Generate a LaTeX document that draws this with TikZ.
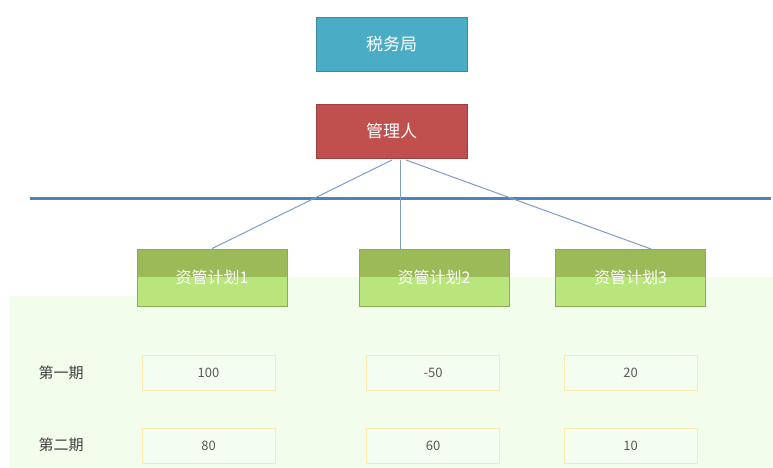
\documentclass[tikz,border=0pt]{standalone}
\usepackage{fontspec}
\setmainfont{Noto Sans CJK SC}
\begin{document}
\begin{tikzpicture}[x=1pt,y=-1pt,
  topbox/.style={draw=#1!80!black, line width=0.8pt, minimum width=151pt, minimum height=54pt, text=white, font=\fontsize{17}{19}\selectfont, inner sep=0pt},
  planbox/.style={draw=planedge, line width=0.8pt, minimum width=150pt, minimum height=57pt, text=white, font=\fontsize{16}{18}\selectfont, inner sep=0pt},
  valbox/.style={draw=valedge, fill=valfill, line width=0.8pt, minimum width=133pt, minimum height=35pt, text=valtext, font=\fontsize{13}{15}\selectfont, inner sep=0pt},
  rowlabel/.style={text=rowtext, font=\fontsize{15}{17}\selectfont, inner sep=0pt},
  link/.style={draw=linkblue, line width=1pt}
]
\definecolor{taxblue}{HTML}{4BACC6}
\definecolor{mgrred}{HTML}{C0504D}
\definecolor{barblue}{HTML}{4F81BD}
\definecolor{linkblue}{HTML}{7F9CC8}
\definecolor{planedge}{HTML}{8EAA55}
\definecolor{plandark}{HTML}{9BBB59}
\definecolor{planlight}{HTML}{B8E67C}
\definecolor{bandgreen}{HTML}{F3FDEC}
\definecolor{valedge}{HTML}{FCEBB0}
\definecolor{valfill}{HTML}{F3FDF0}
\definecolor{valtext}{HTML}{595959}
\definecolor{rowtext}{HTML}{404040}
\useasboundingbox (0,0) rectangle (773,468);
\fill[white] (0,0) rectangle (773,468);
% light green lower band
\fill[bandgreen] (10,296) -- (137,296) -- (137,277) -- (773,277) -- (773,468) -- (10,468) -- cycle;
% plan box fills (dark top, light bottom)
\foreach \xa/\xb in {137/287, 359/509, 555/706}{
  \fill[planlight] (\xa,249) rectangle (\xb,306);
  \fill[plandark] (\xa,249) rectangle (\xb,277);
}
\node[topbox=taxblue, fill=taxblue] (tax) at (391.5,44.5) {税务局};
\node[topbox=mgrred, fill=mgrred] (mgr) at (391.5,131.5) {管理人};
\coordinate (barL) at (30,198);
\coordinate (barR) at (771,198);
\draw[barblue, line width=3pt] (barL) -- (barR);
\node[planbox] (p1) at (212,277.5) {资管计划1};
\node[planbox] (p2) at (434,277.5) {资管计划2};
\node[planbox] (p3) at (630.5,277.5) {资管计划3};
\coordinate (m1) at (392,160);
\coordinate (m2) at (400,160);
\coordinate (m3) at (406,160);
\coordinate (t2) at (400,249);
\coordinate (t3) at (651,249);
\draw[link] (m1) -- (p1.north);
\draw[link] (m2) -- (t2);
\draw[link] (m3) -- (t3);
\node[rowlabel] (r1) at (61,373) {第一期};
\node[rowlabel] (r2) at (61,445) {第二期};
\node[valbox] (v11) at (208.5,372.5) {100};
\node[valbox] (v12) at (433,372.5) {-50};
\node[valbox] (v13) at (630.5,372.5) {20};
\node[valbox] (v21) at (208.5,445.5) {80};
\node[valbox] (v22) at (433,445.5) {60};
\node[valbox] (v23) at (630.5,445.5) {10};
\end{tikzpicture}
\end{document}
